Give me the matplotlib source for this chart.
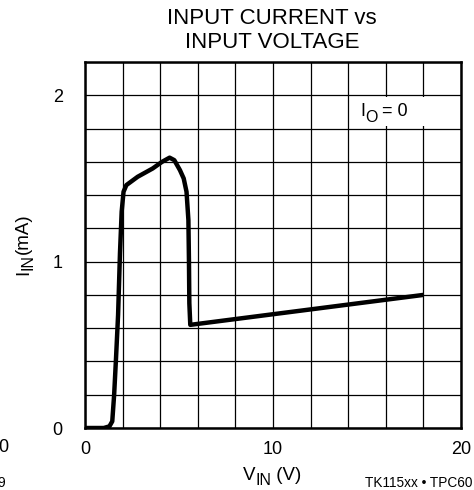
import matplotlib
matplotlib.use("Agg")
import matplotlib.pyplot as plt
from matplotlib.transforms import IdentityTransform
from matplotlib.patches import Rectangle
import numpy as np

plt.rcParams['font.family'] = ['Liberation Sans', 'DejaVu Sans']

# data
v_in = [0.0, 1.0, 1.3, 1.45, 1.55, 1.65, 1.76, 1.86, 1.95, 2.05, 2.2, 2.8, 3.6, 4.1, 4.5, 4.75, 5.05, 5.25, 5.4, 5.5, 5.53, 5.55, 5.6, 18.0]
i_in = [0.0, 0.0, 0.01, 0.04, 0.2, 0.42, 0.68, 1.05, 1.30, 1.42, 1.46, 1.51, 1.56, 1.60, 1.625, 1.61, 1.55, 1.50, 1.42, 1.25, 1.0, 0.75, 0.62, 0.80]

x_ticks = [0, 10, 20]
y_ticks = [0, 1, 2]
title_lines = ["INPUT CURRENT vs", "INPUT VOLTAGE"]

W, H = 474, 490
fig = plt.figure(figsize=(W / 100, H / 100), dpi=100)
ax = fig.add_axes([85 / W, 62 / H, 376 / W, 366 / H])

ax.plot(v_in, i_in, color='black', lw=3.2, solid_joinstyle='round', solid_capstyle='butt', zorder=3)

ax.set_xlim(0, 20)
ax.set_ylim(0, 2.2)
ax.set_xticks(np.arange(0, 20.01, 2), minor=True)
ax.set_yticks(np.arange(0, 2.201, 0.2), minor=True)
ax.set_xticks(x_ticks)
ax.set_yticks(y_ticks)
ax.set_xticklabels([str(t) for t in x_ticks])
ax.set_yticklabels([str(t) for t in y_ticks])
ax.grid(True, which='both', color='black', lw=0.9)
ax.tick_params(which='both', length=0, labelsize=13, colors='black')
ax.tick_params(axis='y', pad=16)
ax.tick_params(axis='x', pad=9)
for s in ax.spines.values():
    s.set_linewidth(1.8)
    s.set_zorder(4)

renderer = fig.canvas.get_renderer()


def rich(parts, x_px, y_px, rotation=0, align='center'):
    """parts: list of (text, fontsize, lower_px). x_px,y_px: anchor in pixels from top-left;
    y_px is the main baseline."""
    widths = []
    for s, fs, _ in parts:
        t = fig.text(0, 0, s, fontsize=fs)
        widths.append(t.get_window_extent(renderer).width)
        t.remove()
    total = sum(widths)
    start = -total / 2 if align == 'center' else 0.0
    cum = start
    for (s, fs, low), w in zip(parts, widths):
        if rotation == 0:
            X = x_px + cum
            Y = H - (y_px + low)
        else:
            X = x_px + low
            Y = H - y_px + cum
        fig.text(X, Y, s, fontsize=fs, transform=IdentityTransform(), ha='left', va='baseline',
                 rotation=rotation, rotation_mode='anchor', zorder=6)
        cum += w


# white box behind the I_O label
fig.patches.append(Rectangle((352, H - 126), 76, 29, transform=IdentityTransform(),
                             facecolor='white', edgecolor='none', zorder=5))
rich([("I", 13, 0), ("O", 11.5, 6), (" = 0", 13, 0)], 360, 116, align='left')

fig.text(272 / W, 1 - 18 / H, title_lines[0], fontsize=16, ha='center', va='center')
fig.text(272 / W, 1 - 42.5 / H, title_lines[1], fontsize=16, ha='center', va='center')

rich([("V", 13.5, 0), ("IN", 11.5, 5), (" (V)", 13.5, 0)], 272, 480)
rich([("I", 13.5, 0), ("IN", 11.5, 4), ("(mA)", 13.5, 0)], 28, 244, rotation=90)

fig.text(472 / W, 1 - 483 / H, "TK115xx • TPC60", fontsize=9.8, ha='right', va='center')
fig.text(9 / W, 1 - 447 / H, "20", fontsize=13, ha='right', va='center')
fig.text(5 / W, 1 - 483 / H, "9", fontsize=9.8, ha='right', va='center')

fig.savefig("out.png", dpi=100)
